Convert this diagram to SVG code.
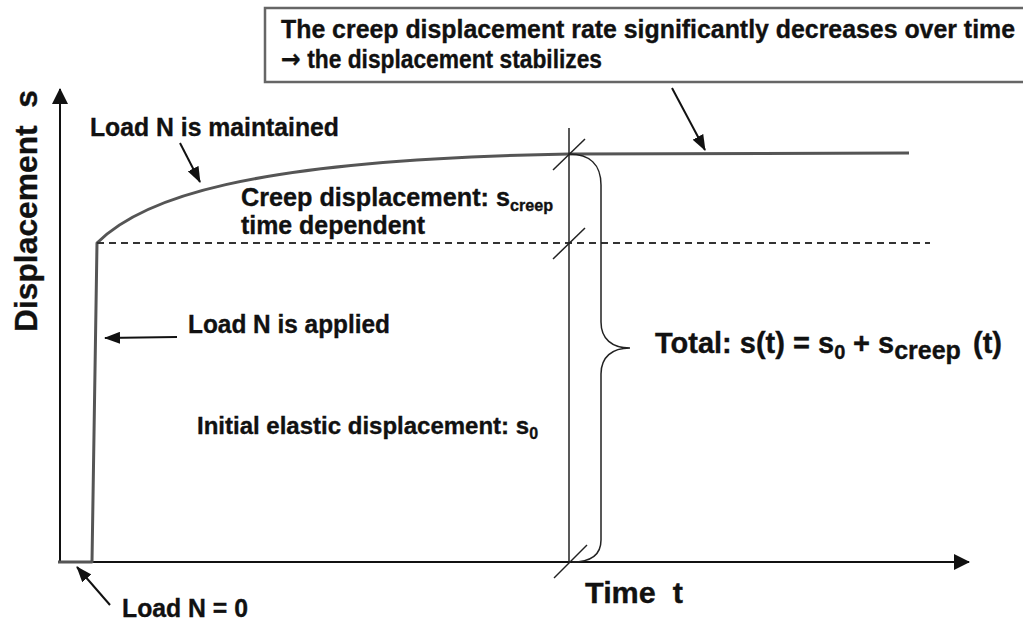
<svg xmlns="http://www.w3.org/2000/svg" width="1023" height="622" viewBox="0 0 1023 622">
  <style>
    text { font-family: "Liberation Sans", Arial, sans-serif; font-weight: bold; fill: #111; stroke: #111; stroke-width: 0.35; }
    .lbl { font-size: 25px; }
    .axis { stroke: #111; stroke-width: 2; fill: none; }
    .curve { stroke: #555; stroke-width: 3; fill: none; stroke-linejoin: round; }
    .ptr { stroke: #111; stroke-width: 2; fill: none; marker-end: url(#head); }
    .thin { stroke: #222; stroke-width: 1.5; fill: none; }
    .arrowglyph { font-family: "DejaVu Sans", sans-serif; font-size: 26px; }
  </style>
  <defs>
    <marker id="head" markerUnits="userSpaceOnUse" markerWidth="16" markerHeight="12" viewBox="0 0 16 12" refX="15" refY="6" orient="auto">
      <path d="M0,0 L16,6 L0,12 z" fill="#111"/>
    </marker>
    <marker id="axhead" markerUnits="userSpaceOnUse" markerWidth="16" markerHeight="16" viewBox="0 0 16 16" refX="15" refY="8" orient="auto">
      <path d="M0,0 L16,8 L0,16 z" fill="#111"/>
    </marker>
  </defs>

  <!-- axes -->
  <g id="axes">
    <line class="axis" x1="60" y1="562" x2="60" y2="89" marker-end="url(#axhead)"/>
    <line class="axis" x1="58" y1="562" x2="969" y2="562" marker-end="url(#axhead)"/>
    <text id="y-label" font-size="32" transform="translate(37,332) rotate(-90)" textLength="242" lengthAdjust="spacingAndGlyphs" style="white-space:pre">Displacement  s</text>
    <text id="x-label" x="585" y="603" font-size="30" textLength="98" lengthAdjust="spacingAndGlyphs" style="white-space:pre">Time  t</text>
  </g>

  <!-- displacement history -->
  <g id="history">
    <path class="curve" d="M58,562 L92,562 L97,243 C140,200 240,160 569,154 L909,153"/>
    <line x1="97" y1="243" x2="930" y2="243" stroke="#333" stroke-width="1.8" stroke-dasharray="7,5"/>
  </g>

  <!-- reference time and total brace -->
  <g id="time-marker">
    <line class="thin" x1="569" y1="128" x2="569" y2="562"/>
    <line class="thin" x1="553" y1="170" x2="585" y2="139"/>
    <line class="thin" x1="553" y1="259" x2="585" y2="228"/>
    <line class="thin" x1="554" y1="578" x2="587" y2="545"/>
    <path class="thin" stroke-width="2" d="M569,154 C590,154 601,165 601,185 L601,322 C601,339 612,348 630,348 C612,348 601,357 601,374 L601,540 C601,555 590,562 572,562"/>
  </g>

  <!-- callout box -->
  <g id="note">
    <rect x="265" y="8" width="770" height="74" fill="#fff" stroke="#666" stroke-width="2.5"/>
    <text class="lbl" x="281" y="38" textLength="734" lengthAdjust="spacingAndGlyphs">The creep displacement rate significantly decreases over time</text>
    <text class="lbl" x="281" y="68" textLength="321" lengthAdjust="spacingAndGlyphs"><tspan class="arrowglyph">→</tspan> the displacement stabilizes</text>
  </g>

  <!-- labels -->
  <g id="lbl-maintained"><text class="lbl" x="90" y="136" textLength="249" lengthAdjust="spacingAndGlyphs">Load N is maintained</text></g>
  <g id="lbl-creep">
    <text x="241" y="206" font-size="25" textLength="312" lengthAdjust="spacingAndGlyphs">Creep displacement: s<tspan font-size="16" dy="5">creep</tspan></text>
    <text x="241" y="234" font-size="25" textLength="184" lengthAdjust="spacingAndGlyphs">time dependent</text>
  </g>
  <g id="lbl-applied"><text class="lbl" x="188" y="333" textLength="202" lengthAdjust="spacingAndGlyphs">Load N is applied</text></g>
  <g id="lbl-elastic"><text x="197" y="434" font-size="24">Initial elastic displacement: s<tspan font-size="16" dy="5">0</tspan></text></g>
  <g id="lbl-zero"><text class="lbl" x="122" y="617" textLength="126" lengthAdjust="spacingAndGlyphs">Load N = 0</text></g>
  <g id="lbl-total">
    <text x="655" y="353" font-size="29">Total: s(t) = s<tspan font-size="20" dy="6">0</tspan><tspan x="853" dy="-6">+ s</tspan><tspan font-size="25" dy="6">creep</tspan><tspan x="973" dy="-6">(t)</tspan></text>
  </g>

  <!-- pointer arrows -->
  <g id="connectors">
    <line class="ptr" x1="180" y1="143" x2="200" y2="182"/>
    <line class="ptr" x1="177" y1="337" x2="105" y2="338"/>
    <line class="ptr" x1="110" y1="605" x2="77" y2="567"/>
    <line class="ptr" x1="672" y1="88" x2="705" y2="150"/>
  </g>
</svg>
